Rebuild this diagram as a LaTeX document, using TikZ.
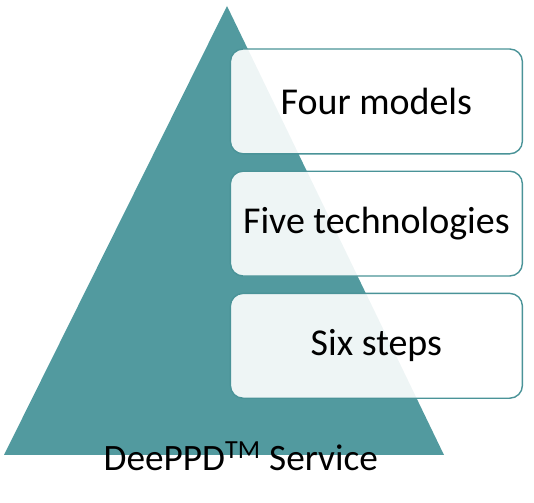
\documentclass[tikz,border=0pt]{standalone}
\usepackage{fontspec}
\setmainfont{Carlito}
\usepackage{xcolor}
\usepackage{tikz}
\usetikzlibrary{positioning}
\definecolor{pyrteal}{HTML}{529A9F}
\definecolor{boxedge}{HTML}{4A9398}

\begin{document}
\begin{tikzpicture}[
    level/.style={rectangle, rounded corners=9pt, minimum width=7.3cm, minimum height=2.62cm,
        draw=boxedge, line width=1pt, fill=white, fill opacity=0.9, text opacity=1,
        font=\fontsize{27}{31}\selectfont, align=center},
    base/.style={font=\fontsize{26.5}{30}\selectfont}
]
\useasboundingbox (0,0) rectangle (13.35,12.575);
\fill[pyrteal] (0.1,1.2) -- (5.675,12.425) -- (11.1,1.2) -- cycle;
\node[level] (models) at (9.41,10.04) {Four models};
\node[level, below=0.4cm of models] (techs) {Five technologies};
\node[level, below=0.4cm of techs] (steps) {Six steps};
\node[base] (service) at (6.02,1.17) {DeePPD\textsuperscript{TM} Service};
\end{tikzpicture}
\end{document}
